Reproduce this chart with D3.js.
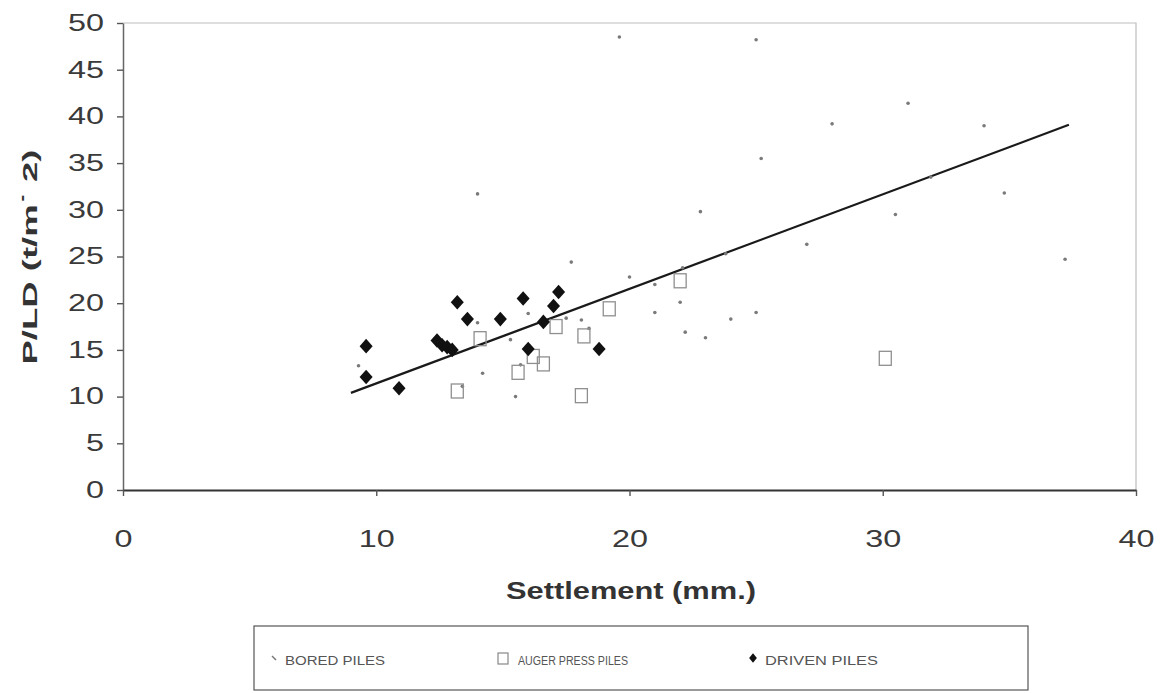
<!DOCTYPE html>
<html>
<head>
<meta charset="utf-8">
<script src="https://cdn.jsdelivr.net/npm/d3@7"></script>
<style>
  body { margin: 0; background: #fff; }
  svg { display: block; font-family: "Liberation Sans", Arial, sans-serif; }
</style>
</head>
<body>
<div class="svg-container"></div>
<script>
// series values
const boredX = [9.3, 13.4, 14.0, 14.2, 14.0, 15.3, 15.7, 15.5, 16.0, 17.5, 18.1, 18.4, 17.7, 19.6, 20.0, 21.0, 21.0, 22.0, 22.1, 22.2, 22.8, 23.0, 23.8, 24.0, 25.0, 25.0, 25.2, 27.0, 28.0, 30.5, 31.0, 31.9, 34.0, 34.8, 37.2];
const boredY = [13.3, 11.1, 17.9, 12.5, 31.7, 16.1, 13.4, 10.0, 18.9, 18.4, 18.2, 17.3, 24.4, 48.5, 22.8, 22.0, 19.0, 20.1, 23.8, 16.9, 29.8, 16.3, 25.3, 18.3, 19.0, 48.2, 35.5, 26.3, 39.2, 29.5, 41.4, 33.5, 39.0, 31.8, 24.7];

const augerX = [13.2, 14.1, 15.6, 16.2, 16.6, 17.1, 18.2, 18.1, 19.2, 22.0, 30.1];
const augerY = [10.6, 16.2, 12.6, 14.3, 13.5, 17.5, 16.5, 10.1, 19.4, 22.4, 14.1];

const drivenX = [9.6, 9.6, 10.9, 12.4, 12.6, 12.8, 13.0, 13.2, 13.6, 14.9, 15.8, 16.0, 16.6, 17.0, 17.2, 18.8];
const drivenY = [15.4, 12.1, 10.9, 16.0, 15.5, 15.3, 15.0, 20.1, 18.3, 18.3, 20.5, 15.1, 18.0, 19.7, 21.2, 15.1];

const trendX = [9.0, 37.35];
const trendY = [10.4, 39.1];

const xTicks = [0, 10, 20, 30, 40];
const yTicks = [0, 5, 10, 15, 20, 25, 30, 35, 40, 45, 50];

const seriesNames = ['BORED PILES', 'AUGER PRESS PILES', 'DRIVEN PILES'];

const W = 1168, H = 693;
const plotLeft = 123, plotRight = 1136, plotTop = 23, plotBottom = 490;

const svg = d3.select('.svg-container').append('svg')
  .attr('width', W).attr('height', H);

svg.append('rect').attr('width', W).attr('height', H).attr('fill', '#fff');

const x = d3.scaleLinear().domain([0, 40]).range([plotLeft, plotRight]);
const y = d3.scaleLinear().domain([0, 50]).range([plotBottom, plotTop]);

// plot frame (faint top / right)
svg.append('path')
  .attr('d', `M${plotLeft},${plotTop}H${plotRight}V${plotBottom}`)
  .attr('fill', 'none').attr('stroke', '#bdbdbd').attr('stroke-width', 1.2);

// axes
const yAxis = svg.append('g')
  .attr('transform', `translate(${plotLeft},0)`)
  .call(d3.axisLeft(y).tickValues(yTicks).tickSize(6).tickPadding(13).tickSizeOuter(0));

const xAxis = svg.append('g')
  .attr('transform', `translate(0,${plotBottom})`)
  .call(d3.axisBottom(x).tickValues(xTicks).tickSize(6).tickPadding(35).tickSizeOuter(0));

yAxis.select('.domain').attr('stroke', '#666').attr('stroke-width', 1.5);
xAxis.select('.domain').attr('stroke', '#333').attr('stroke-width', 2);
svg.selectAll('.tick line').attr('stroke', '#555').attr('stroke-width', 1.4);
svg.selectAll('.tick text')
  .attr('font-size', 23)
  .attr('fill', '#3a3a3a')
  .attr('font-family', '"Liberation Sans", Arial, sans-serif')
  .attr('lengthAdjust', 'spacingAndGlyphs')
  .attr('textLength', function() { return this.textContent.length * 18; });

// axis titles
svg.append('text')
  .attr('x', 631).attr('y', 599)
  .attr('text-anchor', 'middle')
  .attr('font-size', 23).attr('font-weight', 'bold').attr('fill', '#333')
  .attr('textLength', 250).attr('lengthAdjust', 'spacingAndGlyphs')
  .text('Settlement (mm.)');

svg.append('text')
  .attr('transform', 'translate(37,257) rotate(-90)')
  .attr('text-anchor', 'middle')
  .attr('font-size', 21).attr('font-weight', 'bold').attr('fill', '#333')
  .attr('textLength', 215).attr('lengthAdjust', 'spacingAndGlyphs')
  .text('P/LD (t/m\u02D9 2)');

// trend line
const line = d3.line().x(d => x(d[0])).y(d => y(d[1]));
svg.append('path')
  .datum(d3.zip(trendX, trendY))
  .attr('d', line)
  .attr('fill', 'none').attr('stroke', '#1a1a1a').attr('stroke-width', 2.2);

// bored piles
svg.append('g').selectAll('circle')
  .data(d3.zip(boredX, boredY))
  .join('circle')
  .attr('cx', d => x(d[0])).attr('cy', d => y(d[1]))
  .attr('r', 1.8).attr('fill', '#7a7a7a');

// auger press piles
svg.append('g').selectAll('rect')
  .data(d3.zip(augerX, augerY))
  .join('rect')
  .attr('x', d => x(d[0]) - 6).attr('y', d => y(d[1]) - 7)
  .attr('width', 12).attr('height', 14)
  .attr('fill', 'none').attr('stroke', '#8f8f8f').attr('stroke-width', 1.3);

// driven piles
const diamond = d3.symbol().type(d3.symbolSquare).size(85);
svg.append('g').selectAll('path')
  .data(d3.zip(drivenX, drivenY))
  .join('path')
  .attr('d', diamond)
  .attr('transform', d => `translate(${x(d[0])},${y(d[1])}) scale(1,1.12) rotate(45)`)
  .attr('fill', '#111');

// legend
const legend = svg.append('g');
legend.append('rect')
  .attr('x', 254).attr('y', 626).attr('width', 774).attr('height', 64)
  .attr('fill', 'none').attr('stroke', '#555').attr('stroke-width', 1.2);

const legendItems = [
  { name: seriesNames[0], mx: 275, tx: 285, tl: 100 },
  { name: seriesNames[1], mx: 503, tx: 518, tl: 110 },
  { name: seriesNames[2], mx: 753, tx: 765, tl: 113 }
];

legendItems.forEach((it, i) => {
  if (i === 0) {
    legend.append('line')
      .attr('x1', it.mx - 3).attr('y1', 656).attr('x2', it.mx + 1).attr('y2', 660)
      .attr('stroke', '#777').attr('stroke-width', 1.4);
  } else if (i === 1) {
    legend.append('rect')
      .attr('x', it.mx - 5).attr('y', 653).attr('width', 10).attr('height', 11)
      .attr('fill', 'none').attr('stroke', '#888').attr('stroke-width', 1.2);
  } else {
    legend.append('path')
      .attr('d', d3.symbol().type(d3.symbolSquare).size(30))
      .attr('transform', `translate(${it.mx},658) scale(1,1.2) rotate(45)`)
      .attr('fill', '#111');
  }
  legend.append('text')
    .attr('x', it.tx).attr('y', 665)
    .attr('font-size', 12).attr('fill', '#555')
    .attr('textLength', it.tl).attr('lengthAdjust', 'spacingAndGlyphs')
    .text(it.name);
});
</script>
</body>
</html>
